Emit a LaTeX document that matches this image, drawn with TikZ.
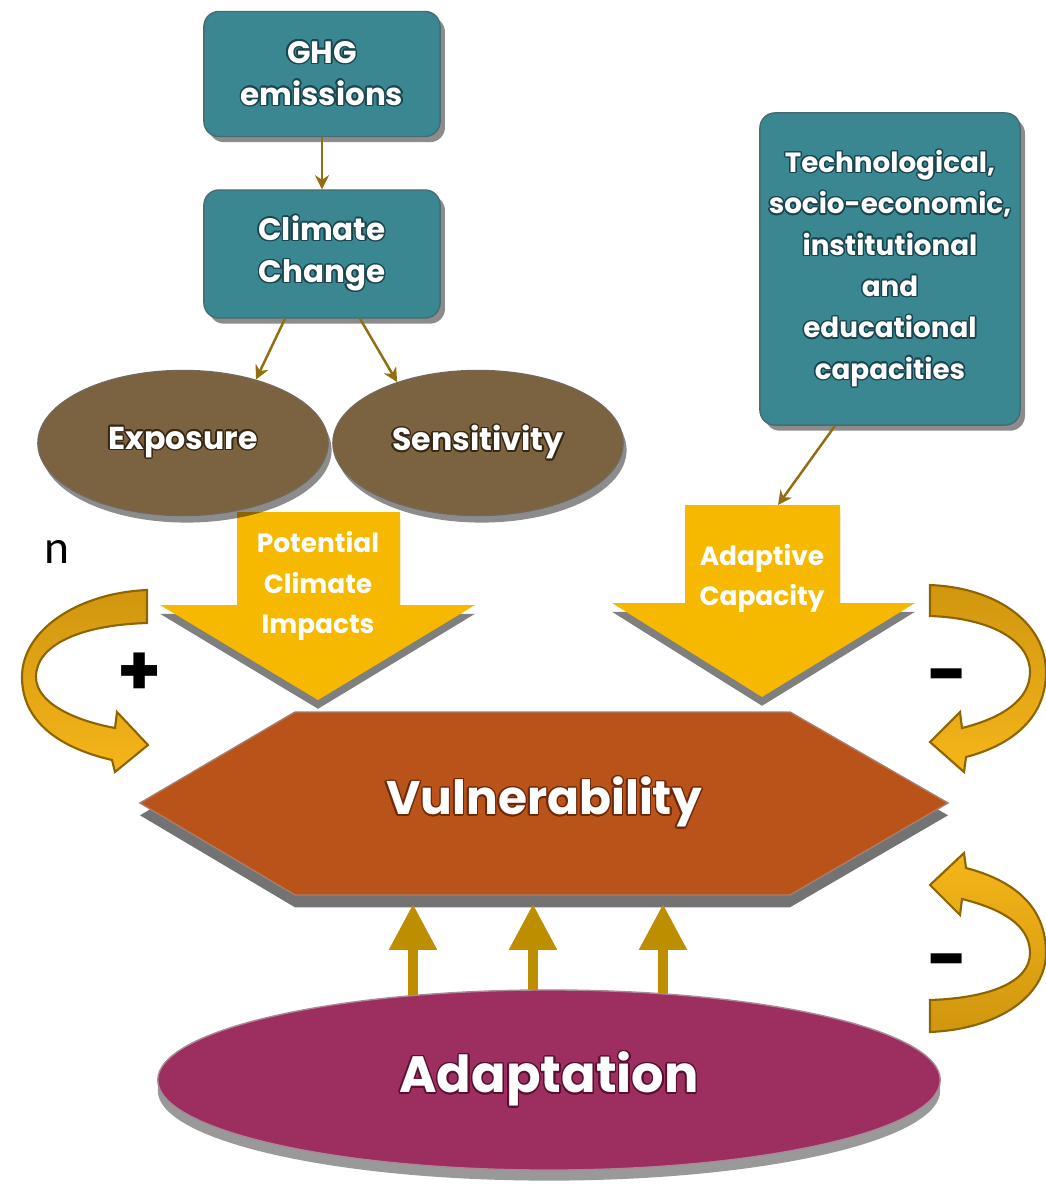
\documentclass[tikz,border=0pt]{standalone}
\usepackage{fontspec}
\setmainfont{Poppins}
\newfontfamily\carlitofont{Carlito}
\usepackage{contour}
\contourlength{0.4pt}
\usetikzlibrary{shapes.geometric,shadows,arrows.meta,calc}
\definecolor{tealbox}{RGB}{59,135,145}
\definecolor{tealdk}{RGB}{25,70,78}
\definecolor{brownell}{RGB}{123,98,64}
\definecolor{browndk}{RGB}{55,40,20}
\definecolor{goldarr}{RGB}{247,185,0}
\definecolor{hexor}{RGB}{185,83,25}
\definecolor{hexdk}{RGB}{110,40,8}
\definecolor{plum}{RGB}{156,46,96}
\definecolor{plumdk}{RGB}{90,15,50}
\definecolor{thinarr}{RGB}{145,110,15}
\definecolor{ribdark}{RGB}{208,150,15}
\definecolor{ribbright}{RGB}{245,182,25}
\definecolor{ribedge}{RGB}{140,100,0}
\definecolor{uparr}{RGB}{188,142,0}
\tikzset{
 boxshadow/.style={drop shadow={shadow xshift=1.4pt,shadow yshift=-1.6pt,fill=black,opacity=0.45}},
 tealnode/.style={draw=tealdk!80, line width=0.4pt, fill=tealbox, rounded corners=0.15cm, boxshadow, text=white, align=center, inner sep=0pt},
 brownnode/.style={ellipse, draw=browndk!70, fill=brownell, minimum width=2.9cm, minimum height=1.45cm, inner sep=0pt, drop shadow={shadow xshift=1pt,shadow yshift=-2pt,fill=black,opacity=0.45}, text=white, font=\bfseries\fontsize{9}{11}\selectfont},
 thinarrow/.style={draw=thinarr, line width=0.7pt, -{Stealth[length=4pt,width=4pt]}},
 goldblock/.style={fill=goldarr, drop shadow={shadow xshift=0pt, shadow yshift=-2.5pt, fill=black, opacity=0.5}},
 blocktext/.style={text=white, font=\bfseries\fontsize{7.5}{11.4}\selectfont, align=center},
 ribbon/.style={draw=ribedge, line width=0.6pt},
 upbolt/.style={draw=uparr, line width=2.6pt, -{Triangle[width=13pt,length=13pt]}},
 signtext/.style={text=black, font=\bfseries\fontsize{20}{20}\selectfont},
}
\begin{document}
\begin{tikzpicture}[x=0.01cm,y=-0.01cm]
\useasboundingbox (0,0) rectangle (1046,1184);

% top boxes
\node[tealnode, minimum width=2.36cm, minimum height=1.25cm, font=\bfseries\fontsize{8.8}{12}\selectfont] (ghg) at (322,74) {\contour{tealdk}{GHG}\\\contour{tealdk}{emissions}};
\node[tealnode, minimum width=2.36cm, minimum height=1.28cm, font=\bfseries\fontsize{8.8}{12}\selectfont] (cc) at (322,254) {\contour{tealdk}{Climate}\\\contour{tealdk}{Change}};
\node[tealnode, minimum width=2.6cm, minimum height=3.12cm, font=\bfseries\fontsize{7.9}{11.75}\selectfont] (tech) at (890,269) {\contour{tealdk}{Technological,}\\\contour{tealdk}{socio-economic,}\\\contour{tealdk}{institutional}\\\contour{tealdk}{and}\\\contour{tealdk}{educational}\\\contour{tealdk}{capacities}};

% gold block arrows
\path[goldblock] (237,512) -- (400,512) -- (400,605) -- (475,605) -- (318,700) -- (160,605) -- (237,605) -- cycle;
\path[goldblock] (685,505) -- (840,505) -- (840,603) -- (915,603) -- (762,697) -- (612,603) -- (685,603) -- cycle;
\node[blocktext] (pci) at (318,586) {Potential\\Climate\\Impacts};
\node[blocktext] (ac) at (762,578) {Adaptive\\Capacity};
\coordinate (acin) at (778,505);

% ellipses
\node[brownnode] (exp) at (183,443) {\contour{browndk}{Exposure}};
\node[brownnode] (sens) at (478,443) {\contour{browndk}{Sensitivity}};

% thin connectors
\draw[thinarrow] (ghg) -- (cc);
\draw[thinarrow] ([xshift=-0.37cm]cc.south) -- (exp.41);
\draw[thinarrow] ([xshift=0.38cm]cc.south) -- (sens.143);
\draw[thinarrow] ([xshift=-0.55cm]tech.south) -- (acin);

% vulnerability hexagon
\path[fill=hexor, draw=hexdk!60, drop shadow={shadow xshift=0pt,shadow yshift=-3.5pt,fill=black,opacity=0.55}]
  (140,803) -- (295,712) -- (790,712) -- (948,803) -- (790,895) -- (295,895) -- cycle;
\node[minimum width=8.08cm, minimum height=1.83cm, inner sep=0pt, text=white, font=\bfseries\fontsize{13.4}{16}\selectfont] (vul) at (544,803) {\contour{hexdk}{Vulnerability}};

% adaptation (named first, drawn after arrows)
\path (549,1080) coordinate (adc);
\coordinate (adtop) at (549,990);

% up arrows
\coordinate (u1) at (413,0);
\coordinate (u2) at (533,0);
\coordinate (u3) at (663,0);
\foreach \u in {u1,u2,u3}
  \draw[upbolt, shorten <=-3pt, shorten >=2.5pt] (\u |- adtop) -- (\u |- vul.south);

\node[ellipse, fill=plum, draw=plumdk!50, minimum width=7.82cm, minimum height=1.8cm, inner sep=0pt, drop shadow={shadow xshift=0pt, shadow yshift=-3pt, fill=black, opacity=0.4}, text=white, font=\bfseries\fontsize{14.5}{17}\selectfont] (adapt) at (adc) {\contour{plumdk}{Adaptation}};

% feedback ribbons
\shadedraw[ribbon, top color=ribdark, bottom color=ribbright]
  (147,590) .. controls (78,593) and (22,630) .. (22,677)
  .. controls (22,722) and (60,748) .. (112,760) -- (115,772) -- (148,745) -- (117,712) -- (115,728)
  .. controls (72,720) and (36,702) .. (36,677)
  .. controls (36,645) and (80,625) .. (147,623) -- cycle;
\shadedraw[ribbon, top color=ribdark, bottom color=ribbright]
  (930,585) .. controls (1000,588) and (1046,625) .. (1046,672)
  .. controls (1046,718) and (1012,745) .. (966,757) -- (964,772) -- (930,742) -- (960,712) -- (962,728)
  .. controls (1002,718) and (1030,700) .. (1030,672)
  .. controls (1030,640) and (990,618) .. (930,616) -- cycle;
\shadedraw[ribbon, top color=ribbright, bottom color=ribdark]
  (930,1032) .. controls (1000,1029) and (1046,995) .. (1046,953)
  .. controls (1046,905) and (1012,880) .. (966,868) -- (964,853) -- (930,885) -- (960,915) -- (962,899)
  .. controls (1002,909) and (1030,925) .. (1030,953)
  .. controls (1030,982) and (990,998) .. (930,1000) -- cycle;

% signs
\node[signtext] (plus) at (140,674) {+};
\node[signtext] (minus1) at (948,684) {-};
\node[signtext] (minus2) at (948,969) {-};

% stray letter
\node[font=\carlitofont\fontsize{13.5}{13.5}\selectfont, text=black] (nchar) at (57,552) {n};
\end{tikzpicture}
\end{document}
